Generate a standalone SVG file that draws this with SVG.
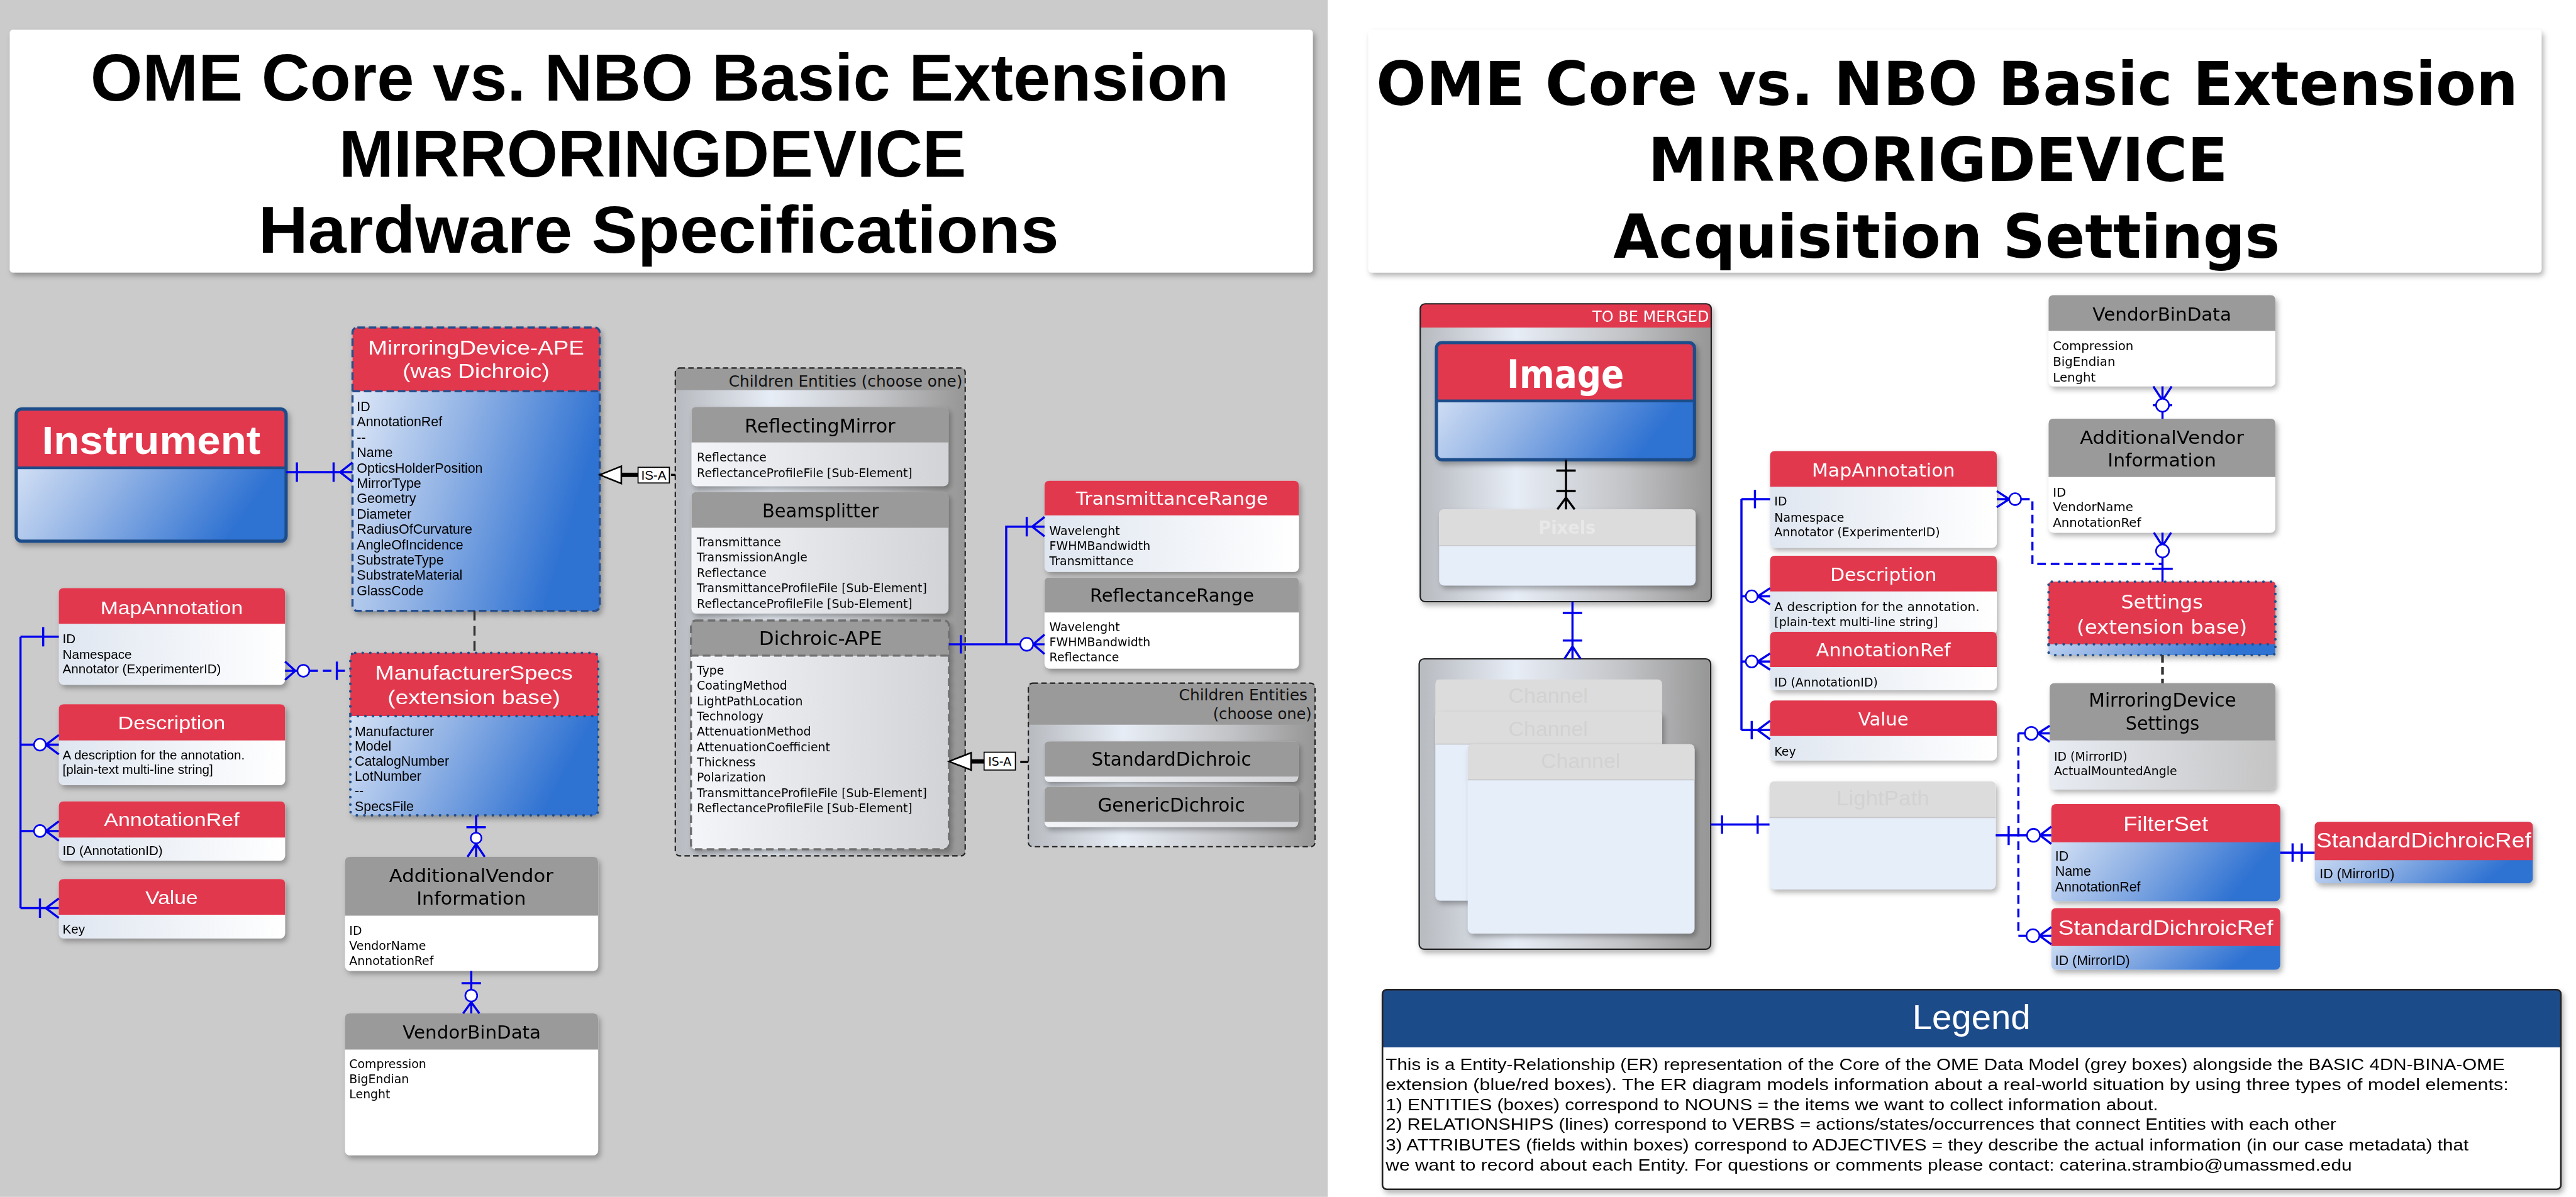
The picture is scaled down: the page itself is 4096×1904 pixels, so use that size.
<svg xmlns="http://www.w3.org/2000/svg" width="4096" height="1904" viewBox="0 0 4096 1904">
<defs>
<style>
.hr{fill:#e2384e}
.hg{fill:#9a9a9a}
.hl{fill:#dcdcdc}
.L{font-family:"Liberation Sans",Arial,sans-serif}
.D{font-family:"DejaVu Sans",Verdana,sans-serif}
.B{font-weight:bold}
.w{fill:#fff}
.k{fill:#000}
.f{fill:#d2d2d2}
.m{text-anchor:middle}
.e{text-anchor:end}
.c{fill:none;stroke:#0000ee;stroke-width:4}
.cd{fill:none;stroke:#0000ee;stroke-width:4;stroke-dasharray:16 9}
.ci{fill:#fff;stroke:#0000ee;stroke-width:3}
.bk{fill:none;stroke:#000;stroke-width:4}
</style>
<linearGradient id="gB" x1="0" y1="0" x2="1" y2="0.35"><stop offset="0" stop-color="#eaf0fa"/><stop offset="0.5" stop-color="#92b3e5"/><stop offset="1" stop-color="#2f72d2"/></linearGradient>
<linearGradient id="gW" x1="0" y1="0" x2="1" y2="0"><stop offset="0" stop-color="#dfe6f0"/><stop offset="1" stop-color="#ffffff"/></linearGradient>
<linearGradient id="gM" x1="0" y1="0" x2="1" y2="0"><stop offset="0" stop-color="#b7babf"/><stop offset="0.33" stop-color="#e7edf6"/><stop offset="0.7" stop-color="#c3c4c7"/><stop offset="1" stop-color="#969696"/></linearGradient>
<linearGradient id="gL" x1="0" y1="0" x2="1" y2="0"><stop offset="0" stop-color="#f3f5f9"/><stop offset="1" stop-color="#d2d3d6"/></linearGradient>
<linearGradient id="gS" x1="0" y1="0" x2="1" y2="0"><stop offset="0" stop-color="#e8ecf3"/><stop offset="1" stop-color="#c4c4c4"/></linearGradient>
<filter id="sh" x="-5%" y="-5%" width="115%" height="125%"><feDropShadow dx="4" dy="6" stdDeviation="5" flood-color="#000" flood-opacity="0.3"/></filter>
</defs>
<g transform="scale(0.85834)">
<rect x="0" y="0" width="2460" height="2218" fill="#cbcbcb"/>
<rect x="2460" y="0" width="2312" height="2218" fill="#ffffff"/>

<g id="title-left" filter="url(#sh)">
<rect x="18" y="55" width="2414" height="450" rx="6" fill="#fff"/>
<text class="L B k m" x="1222" y="186" font-size="124" textLength="2109" lengthAdjust="spacingAndGlyphs">OME Core vs. NBO Basic Extension</text>
<text class="L B k m" x="1209" y="327" font-size="124" textLength="1162" lengthAdjust="spacingAndGlyphs">MIRRORINGDEVICE</text>
<text class="L B k m" x="1220" y="468" font-size="124" textLength="1483" lengthAdjust="spacingAndGlyphs">Hardware Specifications</text>
</g>
<g id="title-right" filter="url(#sh)">
<rect x="2535" y="55" width="2173" height="450" rx="6" fill="#fff"/>
<text class="D B k m" x="3607" y="194" font-size="112" textLength="2115" lengthAdjust="spacingAndGlyphs">OME Core vs. NBO Basic Extension</text>
<text class="D B k m" x="3590" y="336" font-size="112" textLength="1074" lengthAdjust="spacingAndGlyphs">MIRRORIGDEVICE</text>
<text class="D B k m" x="3606" y="478" font-size="112" textLength="1235" lengthAdjust="spacingAndGlyphs">Acquisition Settings</text>
</g>

<!-- LEFT PANEL NODES -->
<g id="instrument" filter="url(#sh)">
<rect x="30" y="758" width="500" height="245" rx="10" fill="url(#gB)"/>
<path class="hr" d="M30,867V768Q30,758 40,758H520Q530,758 530,768V867Z"/>
<path d="M30,867H530" stroke="#1f4e8a" stroke-width="5"/>
<rect x="30" y="758" width="500" height="245" rx="10" fill="none" stroke="#1f4e8a" stroke-width="6"/>
<text class="L B w m" x="280" y="841" font-size="74" textLength="405" lengthAdjust="spacingAndGlyphs">Instrument</text>
</g>

<g id="mirroringdevice-ape" filter="url(#sh)">
<rect x="653" y="607" width="458" height="525" rx="9" fill="url(#gB)"/>
<path class="hr" d="M653,725V616Q653,607 662,607H1102Q1111,607 1111,616V725Z"/>
<rect x="653" y="607" width="458" height="525" rx="9" fill="none" stroke="#27508c" stroke-width="4" stroke-dasharray="14 7"/>
<path d="M653,725H1111" stroke="#27508c" stroke-width="4" stroke-dasharray="14 7"/>
<text class="L w m" x="882" y="657" font-size="37" textLength="400" lengthAdjust="spacingAndGlyphs">MirroringDevice-APE</text>
<text class="L w m" x="882" y="700" font-size="37" textLength="272" lengthAdjust="spacingAndGlyphs">(was Dichroic)</text>
<text class="L k" font-size="25"><tspan x="661" y="762">ID</tspan><tspan x="661" y="790">AnnotationRef</tspan><tspan x="661" y="819">--</tspan><tspan x="661" y="847">Name</tspan><tspan x="661" y="876">OpticsHolderPosition</tspan><tspan x="661" y="904">MirrorType</tspan><tspan x="661" y="932">Geometry</tspan><tspan x="661" y="961">Diameter</tspan><tspan x="661" y="989">RadiusOfCurvature</tspan><tspan x="661" y="1018">AngleOfIncidence</tspan><tspan x="661" y="1046">SubstrateType</tspan><tspan x="661" y="1074">SubstrateMaterial</tspan><tspan x="661" y="1103">GlassCode</tspan></text>
</g>

<g id="manufacturerspecs" filter="url(#sh)">
<rect x="649" y="1210" width="459" height="301" rx="9" fill="url(#gB)"/>
<path class="hr" d="M649,1327V1219Q649,1210 658,1210H1099Q1108,1210 1108,1219V1327Z"/>
<rect x="649" y="1210" width="459" height="301" rx="9" fill="none" stroke="#23508a" stroke-width="5" stroke-dasharray="0 14" stroke-linecap="round"/>
<path d="M649,1327H1108" stroke="#23508a" stroke-width="5" stroke-dasharray="0 14" stroke-linecap="round"/>
<text class="L w m" x="878" y="1259" font-size="37" textLength="366" lengthAdjust="spacingAndGlyphs">ManufacturerSpecs</text>
<text class="L w m" x="878" y="1305" font-size="37" textLength="320" lengthAdjust="spacingAndGlyphs">(extension base)</text>
<text class="L k" font-size="25"><tspan x="657" y="1364">Manufacturer</tspan><tspan x="657" y="1391">Model</tspan><tspan x="657" y="1419">CatalogNumber</tspan><tspan x="657" y="1447">LotNumber</tspan><tspan x="657" y="1474">--</tspan><tspan x="657" y="1503">SpecsFile</tspan></text>
</g>

<g id="mapannotation-left" filter="url(#sh)">
<rect x="109" y="1090" width="419" height="179" rx="9" fill="url(#gW)"/>
<path class="hr" d="M109,1156V1099Q109,1090 118,1090H519Q528,1090 528,1099V1156Z"/>
<text class="L w m" x="318" y="1138" font-size="35" textLength="264" lengthAdjust="spacingAndGlyphs">MapAnnotation</text>
<text class="L k" font-size="24"><tspan x="116" y="1192">ID</tspan><tspan x="116" y="1221">Namespace</tspan><tspan x="116" y="1248">Annotator (ExperimenterID)</tspan></text>
</g>
<g id="description-left" filter="url(#sh)">
<rect x="109" y="1305" width="419" height="150" rx="9" fill="url(#gW)"/>
<path class="hr" d="M109,1372V1314Q109,1305 118,1305H519Q528,1305 528,1314V1372Z"/>
<text class="L w m" x="318" y="1352" font-size="35" textLength="199" lengthAdjust="spacingAndGlyphs">Description</text>
<text class="L k" font-size="24"><tspan x="116" y="1407">A description for the annotation.</tspan><tspan x="116" y="1434">[plain-text multi-line string]</tspan></text>
</g>
<g id="annotationref-left" filter="url(#sh)">
<rect x="109" y="1485" width="419" height="110" rx="9" fill="url(#gW)"/>
<path class="hr" d="M109,1552V1494Q109,1485 118,1485H519Q528,1485 528,1494V1552Z"/>
<text class="L w m" x="318" y="1531" font-size="35" textLength="251" lengthAdjust="spacingAndGlyphs">AnnotationRef</text>
<text class="L k" x="116" y="1585" font-size="24">ID (AnnotationID)</text>
</g>
<g id="value-left" filter="url(#sh)">
<rect x="109" y="1629" width="419" height="110" rx="9" fill="url(#gW)"/>
<path class="hr" d="M109,1695V1638Q109,1629 118,1629H519Q528,1629 528,1638V1695Z"/>
<text class="L w m" x="318" y="1675" font-size="35" textLength="97" lengthAdjust="spacingAndGlyphs">Value</text>
<text class="L k" x="116" y="1730" font-size="24">Key</text>
</g>

<g id="additionalvendor-left" filter="url(#sh)">
<rect x="639" y="1588" width="469" height="211" rx="9" fill="#fff"/>
<path class="hg" d="M639,1697V1597Q639,1588 648,1588H1099Q1108,1588 1108,1597V1697Z"/>
<text class="D k m" x="873" y="1635" font-size="34" textLength="304" lengthAdjust="spacingAndGlyphs">AdditionalVendor</text>
<text class="D k m" x="873" y="1677" font-size="34" textLength="203" lengthAdjust="spacingAndGlyphs">Information</text>
<text class="D k" font-size="22"><tspan x="647" y="1732">ID</tspan><tspan x="647" y="1760">VendorName</tspan><tspan x="647" y="1788">AnnotationRef</tspan></text>
</g>
<g id="vendorbindata-left" filter="url(#sh)">
<rect x="639" y="1878" width="469" height="263" rx="9" fill="#fff"/>
<path class="hg" d="M639,1945V1887Q639,1878 648,1878H1099Q1108,1878 1108,1887V1945Z"/>
<text class="D k m" x="874" y="1925" font-size="34" textLength="256" lengthAdjust="spacingAndGlyphs">VendorBinData</text>
<text class="D k" font-size="22"><tspan x="647" y="1979">Compression</tspan><tspan x="647" y="2007">BigEndian</tspan><tspan x="647" y="2035">Lenght</tspan></text>
</g>

<g id="children-entities-1">
<rect x="1251" y="682" width="537" height="904" rx="8" fill="url(#gM)"/>
<path class="hg" d="M1251,723V690Q1251,682 1259,682H1780Q1788,682 1788,690V723Z"/>
<rect x="1251" y="682" width="537" height="904" rx="8" fill="none" stroke="#222" stroke-width="2.5" stroke-dasharray="10 6"/>
<text class="D e" x="1783" y="716" font-size="28" fill="#111" textLength="433" lengthAdjust="spacingAndGlyphs">Children Entities (choose one)</text>
</g>
<g id="reflectingmirror" filter="url(#sh)">
<rect x="1281" y="754" width="476" height="147" rx="9" fill="url(#gL)"/>
<path class="hg" d="M1281,820V763Q1281,754 1290,754H1748Q1757,754 1757,763V820Z"/>
<text class="D k m" x="1519" y="801" font-size="36" textLength="279" lengthAdjust="spacingAndGlyphs">ReflectingMirror</text>
<text class="D k" font-size="22"><tspan x="1291" y="855">Reflectance</tspan><tspan x="1291" y="884">ReflectanceProfileFile [Sub-Element]</tspan></text>
</g>
<g id="beamsplitter" filter="url(#sh)">
<rect x="1281" y="912" width="476" height="225" rx="9" fill="url(#gL)"/>
<path class="hg" d="M1281,978V921Q1281,912 1290,912H1748Q1757,912 1757,921V978Z"/>
<text class="D k m" x="1520" y="959" font-size="36" textLength="216" lengthAdjust="spacingAndGlyphs">Beamsplitter</text>
<text class="D k" font-size="22"><tspan x="1291" y="1012">Transmittance</tspan><tspan x="1291" y="1040">TransmissionAngle</tspan><tspan x="1291" y="1070">Reflectance</tspan><tspan x="1291" y="1098">TransmittanceProfileFile [Sub-Element]</tspan><tspan x="1291" y="1127">ReflectanceProfileFile [Sub-Element]</tspan></text>
</g>
<g id="dichroic-ape" filter="url(#sh)">
<rect x="1280" y="1150" width="478" height="424" rx="9" fill="url(#gL)"/>
<path class="hg" d="M1280,1215V1159Q1280,1150 1289,1150H1749Q1758,1150 1758,1159V1215Z"/>
<rect x="1280" y="1150" width="478" height="424" rx="9" fill="none" stroke="#707070" stroke-width="4" stroke-dasharray="14 8"/>
<path d="M1280,1215H1758" stroke="#707070" stroke-width="4" stroke-dasharray="14 8"/>
<text class="D k m" x="1520" y="1195" font-size="36" textLength="228" lengthAdjust="spacingAndGlyphs">Dichroic-APE</text>
<text class="D k" font-size="22"><tspan x="1291" y="1250">Type</tspan><tspan x="1291" y="1278">CoatingMethod</tspan><tspan x="1291" y="1307">LightPathLocation</tspan><tspan x="1291" y="1335">Technology</tspan><tspan x="1291" y="1363">AttenuationMethod</tspan><tspan x="1291" y="1392">AttenuationCoefficient</tspan><tspan x="1291" y="1420">Thickness</tspan><tspan x="1291" y="1448">Polarization</tspan><tspan x="1291" y="1477">TransmittanceProfileFile [Sub-Element]</tspan><tspan x="1291" y="1505">ReflectanceProfileFile [Sub-Element]</tspan></text>
</g>

<g id="transmittancerange" filter="url(#sh)">
<rect x="1935" y="891" width="471" height="169" rx="9" fill="url(#gW)"/>
<path class="hr" d="M1935,955V900Q1935,891 1944,891H2397Q2406,891 2406,900V955Z"/>
<text class="D w m" x="2171" y="936" font-size="34" textLength="356" lengthAdjust="spacingAndGlyphs">TransmittanceRange</text>
<text class="D k" font-size="22"><tspan x="1944" y="992">Wavelenght</tspan><tspan x="1944" y="1020">FWHMBandwidth</tspan><tspan x="1944" y="1047">Transmittance</tspan></text>
</g>
<g id="reflectancerange" filter="url(#sh)">
<rect x="1935" y="1070" width="471" height="169" rx="9" fill="#fff"/>
<path class="hg" d="M1935,1135V1079Q1935,1070 1944,1070H2397Q2406,1070 2406,1079V1135Z"/>
<text class="D k m" x="2171" y="1115" font-size="34" textLength="304" lengthAdjust="spacingAndGlyphs">ReflectanceRange</text>
<text class="D k" font-size="22"><tspan x="1944" y="1170">Wavelenght</tspan><tspan x="1944" y="1198">FWHMBandwidth</tspan><tspan x="1944" y="1226">Reflectance</tspan></text>
</g>

<g id="children-entities-2">
<rect x="1905" y="1266" width="531" height="303" rx="8" fill="url(#gM)"/>
<path class="hg" d="M1905,1343V1274Q1905,1266 1913,1266H2428Q2436,1266 2436,1274V1343Z"/>
<rect x="1905" y="1266" width="531" height="303" rx="8" fill="none" stroke="#222" stroke-width="2.5" stroke-dasharray="10 6"/>
<text class="D e" x="2422" y="1298" font-size="28" fill="#111" textLength="238" lengthAdjust="spacingAndGlyphs">Children Entities</text>
<text class="D e" x="2430" y="1333" font-size="28" fill="#111" textLength="183" lengthAdjust="spacingAndGlyphs">(choose one)</text>
</g>
<g id="standarddichroic" filter="url(#sh)">
<rect x="1935" y="1374" width="470" height="75" rx="9" fill="url(#gL)"/>
<path class="hg" d="M1935,1439V1383Q1935,1374 1944,1374H2396Q2405,1374 2405,1383V1439Z"/>
<text class="D k m" x="2170" y="1419" font-size="36" textLength="296" lengthAdjust="spacingAndGlyphs">StandardDichroic</text>
</g>
<g id="genericdichroic" filter="url(#sh)">
<rect x="1935" y="1458" width="470" height="75" rx="9" fill="url(#gL)"/>
<path class="hg" d="M1935,1523V1467Q1935,1458 1944,1458H2396Q2405,1458 2405,1467V1523Z"/>
<text class="D k m" x="2170" y="1504" font-size="36" textLength="273" lengthAdjust="spacingAndGlyphs">GenericDichroic</text>
</g>

<!-- RIGHT PANEL NODES -->
<g id="to-be-merged" filter="url(#sh)">
<rect x="2631" y="563" width="539" height="552" rx="9" fill="url(#gM)"/>
<path class="hr" d="M2631,607V572Q2631,563 2640,563H3161Q3170,563 3170,572V607Z"/>
<rect x="2631" y="563" width="539" height="552" rx="9" fill="none" stroke="#222" stroke-width="2.5"/>
<text class="D w e" x="3166" y="597" font-size="28" textLength="216" lengthAdjust="spacingAndGlyphs">TO BE MERGED</text>
</g>
<g id="image" filter="url(#sh)">
<rect x="2661" y="635" width="478" height="217" rx="10" fill="url(#gB)"/>
<path class="hr" d="M2661,743V645Q2661,635 2671,635H3129Q3139,635 3139,645V743Z"/>
<path d="M2661,743H3139" stroke="#1f4e8a" stroke-width="5"/>
<rect x="2661" y="635" width="478" height="217" rx="10" fill="none" stroke="#1f4e8a" stroke-width="6"/>
<text class="D B w m" x="2900" y="719" font-size="72" textLength="217" lengthAdjust="spacingAndGlyphs">Image</text>
</g>
<g id="pixels" filter="url(#sh)">
<rect x="2666" y="944" width="475" height="141" rx="9" fill="#e6eefa"/>
<path class="hl" d="M2666,1011V953Q2666,944 2675,944H3132Q3141,944 3141,953V1011Z"/>
<path d="M2666,1011H3141" stroke="#c8c8c8" stroke-width="2"/>
<text class="D B m" x="2903" y="989" font-size="34" fill="#e8e8e8" textLength="106" lengthAdjust="spacingAndGlyphs">Pixels</text>
</g>

<g id="channel-group" filter="url(#sh)">
<rect x="2629" y="1221" width="540" height="538" rx="9" fill="url(#gM)"/>
<rect x="2629" y="1221" width="540" height="538" rx="9" fill="none" stroke="#222" stroke-width="2.5"/>
</g>
<g id="channel-1">
<path class="hl" d="M2659,1330V1268Q2659,1259 2668,1259H3070Q3079,1259 3079,1268V1330Z"/>
<text class="L f m" x="2868" y="1303" font-size="38" textLength="147" lengthAdjust="spacingAndGlyphs">Channel</text>
</g>
<g id="channel-2" filter="url(#sh)">
<rect x="2659" y="1319" width="420" height="350" rx="9" fill="#e6eefa"/>
<path class="hl" d="M2659,1379V1328Q2659,1319 2668,1319H3070Q3079,1319 3079,1328V1379Z"/>
<path d="M2659,1379H3079" stroke="#c8c8c8" stroke-width="2"/>
<text class="L f m" x="2868" y="1364" font-size="38" textLength="147" lengthAdjust="spacingAndGlyphs">Channel</text>
</g>
<g id="channel-3" filter="url(#sh)">
<rect x="2719" y="1379" width="420" height="351" rx="9" fill="#e6eefa"/>
<path class="hl" d="M2719,1445V1388Q2719,1379 2728,1379H3130Q3139,1379 3139,1388V1445Z"/>
<path d="M2719,1445H3139" stroke="#c8c8c8" stroke-width="2"/>
<text class="L f m" x="2928" y="1424" font-size="38" textLength="147" lengthAdjust="spacingAndGlyphs">Channel</text>
</g>
<g id="lightpath" filter="url(#sh)">
<rect x="3278" y="1448" width="419" height="200" rx="9" fill="#e6eefa"/>
<path class="hl" d="M3278,1515V1457Q3278,1448 3287,1448H3688Q3697,1448 3697,1457V1515Z"/>
<path d="M3278,1515H3697" stroke="#c8c8c8" stroke-width="2"/>
<text class="L f m" x="3488" y="1493" font-size="38" textLength="172" lengthAdjust="spacingAndGlyphs">LightPath</text>
</g>

<g id="mapannotation-right" filter="url(#sh)">
<rect x="3279" y="836" width="420" height="179" rx="9" fill="url(#gW)"/>
<path class="hr" d="M3279,902V845Q3279,836 3288,836H3690Q3699,836 3699,845V902Z"/>
<text class="D w m" x="3489" y="883" font-size="34" textLength="265" lengthAdjust="spacingAndGlyphs">MapAnnotation</text>
<text class="D k" font-size="22"><tspan x="3287" y="937">ID</tspan><tspan x="3287" y="967">Namespace</tspan><tspan x="3287" y="994">Annotator (ExperimenterID)</tspan></text>
</g>
<g id="description-right" filter="url(#sh)">
<rect x="3279" y="1030" width="420" height="145" rx="9" fill="url(#gW)"/>
<path class="hr" d="M3279,1096V1039Q3279,1030 3288,1030H3690Q3699,1030 3699,1039V1096Z"/>
<text class="D w m" x="3489" y="1077" font-size="34" textLength="197" lengthAdjust="spacingAndGlyphs">Description</text>
<text class="D k" font-size="22"><tspan x="3287" y="1132" textLength="380" lengthAdjust="spacingAndGlyphs">A description for the annotation.</tspan><tspan x="3287" y="1160">[plain-text multi-line string]</tspan></text>
</g>
<g id="annotationref-right" filter="url(#sh)">
<rect x="3279" y="1171" width="420" height="108" rx="9" fill="url(#gW)"/>
<path class="hr" d="M3279,1236V1180Q3279,1171 3288,1171H3690Q3699,1171 3699,1180V1236Z"/>
<text class="D w m" x="3489" y="1216" font-size="34" textLength="249" lengthAdjust="spacingAndGlyphs">AnnotationRef</text>
<text class="D k" x="3287" y="1272" font-size="22">ID (AnnotationID)</text>
</g>
<g id="value-right" filter="url(#sh)">
<rect x="3279" y="1298" width="420" height="111" rx="9" fill="url(#gW)"/>
<path class="hr" d="M3279,1364V1307Q3279,1298 3288,1298H3690Q3699,1298 3699,1307V1364Z"/>
<text class="D w m" x="3489" y="1344" font-size="34" textLength="93" lengthAdjust="spacingAndGlyphs">Value</text>
<text class="D k" x="3287" y="1400" font-size="22">Key</text>
</g>

<g id="vendorbindata-right" filter="url(#sh)">
<rect x="3795" y="547" width="420" height="169" rx="9" fill="#fff"/>
<path class="hg" d="M3795,613V556Q3795,547 3804,547H4206Q4215,547 4215,556V613Z"/>
<text class="D k m" x="4005" y="594" font-size="34" textLength="257" lengthAdjust="spacingAndGlyphs">VendorBinData</text>
<text class="D k" font-size="23"><tspan x="3803" y="649">Compression</tspan><tspan x="3803" y="678">BigEndian</tspan><tspan x="3803" y="707">Lenght</tspan></text>
</g>
<g id="additionalvendor-right" filter="url(#sh)">
<rect x="3795" y="776" width="420" height="211" rx="9" fill="#fff"/>
<path class="hg" d="M3795,884V785Q3795,776 3804,776H4206Q4215,776 4215,785V884Z"/>
<text class="D k m" x="4005" y="823" font-size="34" textLength="304" lengthAdjust="spacingAndGlyphs">AdditionalVendor</text>
<text class="D k m" x="4005" y="865" font-size="34" textLength="201" lengthAdjust="spacingAndGlyphs">Information</text>
<text class="D k" font-size="23"><tspan x="3803" y="920">ID</tspan><tspan x="3803" y="947">VendorName</tspan><tspan x="3803" y="976">AnnotationRef</tspan></text>
</g>
<g id="settings" filter="url(#sh)">
<rect x="3795" y="1078" width="420" height="136" rx="6" fill="url(#gB)"/>
<path class="hr" d="M3795,1194V1084Q3795,1078 3801,1078H4209Q4215,1078 4215,1084V1194Z"/>
<rect x="3795" y="1078" width="420" height="136" rx="6" fill="none" stroke="#23508a" stroke-width="5" stroke-dasharray="0 14" stroke-linecap="round"/>
<path d="M3795,1194H4215" stroke="#23508a" stroke-width="5" stroke-dasharray="0 14" stroke-linecap="round"/>
<text class="D w m" x="4005" y="1128" font-size="36" textLength="152" lengthAdjust="spacingAndGlyphs">Settings</text>
<text class="D w m" x="4005" y="1174" font-size="36" textLength="316" lengthAdjust="spacingAndGlyphs">(extension base)</text>
</g>
<g id="mirroringdevice-settings" filter="url(#sh)">
<rect x="3797" y="1266" width="418" height="197" rx="9" fill="url(#gS)"/>
<path class="hg" d="M3797,1372V1275Q3797,1266 3806,1266H4206Q4215,1266 4215,1275V1372Z"/>
<text class="D k m" x="4006" y="1310" font-size="35" textLength="273" lengthAdjust="spacingAndGlyphs">MirroringDevice</text>
<text class="D k m" x="4006" y="1353" font-size="35" textLength="137" lengthAdjust="spacingAndGlyphs">Settings</text>
<text class="D k" font-size="22"><tspan x="3805" y="1410">ID (MirrorID)</tspan><tspan x="3805" y="1437">ActualMountedAngle</tspan></text>
</g>
<g id="filterset" filter="url(#sh)">
<rect x="3800" y="1490" width="424" height="180" rx="9" fill="url(#gB)"/>
<path class="hr" d="M3800,1561V1499Q3800,1490 3809,1490H4215Q4224,1490 4224,1499V1561Z"/>
<text class="L w m" x="4012" y="1540" font-size="38" textLength="157" lengthAdjust="spacingAndGlyphs">FilterSet</text>
<text class="L k" font-size="25"><tspan x="3807" y="1595">ID</tspan><tspan x="3807" y="1623">Name</tspan><tspan x="3807" y="1652">AnnotationRef</tspan></text>
</g>
<g id="standarddichroicref-right" filter="url(#sh)">
<rect x="4288" y="1523" width="404" height="114" rx="9" fill="url(#gB)"/>
<path class="hr" d="M4288,1594V1532Q4288,1523 4297,1523H4683Q4692,1523 4692,1532V1594Z"/>
<text class="L w m" x="4490" y="1570" font-size="38" textLength="398" lengthAdjust="spacingAndGlyphs">StandardDichroicRef</text>
<text class="L k" x="4297" y="1628" font-size="25">ID (MirrorID)</text>
</g>
<g id="standarddichroicref-lower" filter="url(#sh)">
<rect x="3800" y="1683" width="424" height="114" rx="9" fill="url(#gB)"/>
<path class="hr" d="M3800,1753V1692Q3800,1683 3809,1683H4215Q4224,1683 4224,1692V1753Z"/>
<text class="L w m" x="4012" y="1732" font-size="38" textLength="398" lengthAdjust="spacingAndGlyphs">StandardDichroicRef</text>
<text class="L k" x="3807" y="1788" font-size="25">ID (MirrorID)</text>
</g>

<g id="legend" filter="url(#sh)">
<rect x="2561" y="1834" width="2183" height="370" rx="8" fill="#fff"/>
<path d="M2561,1941V1842Q2561,1834 2569,1834H4736Q4744,1834 4744,1842V1941Z" fill="#1f4b8a"/>
<rect x="2561" y="1834" width="2183" height="370" rx="8" fill="none" stroke="#222" stroke-width="3"/>
<text class="L w m" x="3652" y="1907" font-size="64" textLength="219" lengthAdjust="spacingAndGlyphs">Legend</text>
<text class="L k" font-size="30" lengthAdjust="spacingAndGlyphs">
<tspan x="2567" y="1983" textLength="2073" lengthAdjust="spacingAndGlyphs">This is a Entity-Relationship (ER) representation of the Core of the OME Data Model (grey boxes) alongside the BASIC 4DN-BINA-OME</tspan>
<tspan x="2567" y="2020" textLength="2080" lengthAdjust="spacingAndGlyphs">extension (blue/red boxes). The ER diagram models information about a real-world situation by using three types of model elements:</tspan>
<tspan x="2567" y="2057" textLength="1431" lengthAdjust="spacingAndGlyphs">1) ENTITIES (boxes) correspond to NOUNS = the items we want to collect information about.</tspan>
<tspan x="2567" y="2094" textLength="1761" lengthAdjust="spacingAndGlyphs">2) RELATIONSHIPS (lines) correspond to VERBS = actions/states/occurrences that connect Entities with each other</tspan>
<tspan x="2567" y="2132" textLength="2006" lengthAdjust="spacingAndGlyphs">3) ATTRIBUTES (fields within boxes) correspond to ADJECTIVES = they describe the actual information (in our case metadata) that</tspan>
<tspan x="2567" y="2169" textLength="1790" lengthAdjust="spacingAndGlyphs">we want to record about each Entity. For questions or comments please contact: caterina.strambio@umassmed.edu</tspan>
</text>
</g>

<!-- CONNECTORS -->
<g id="connectors">
<path class="c" d="M530,875H653M550,857V893M618,857V893M630,875L653,857M630,875L653,893"/>
<path d="M1151,880H1182" stroke="#000" stroke-width="8"/>
<polygon points="1111,880 1151,864 1151,896" fill="#fff" stroke="#000" stroke-width="3"/>
<rect x="1182" y="866" width="58" height="29" fill="#fff" stroke="#000" stroke-width="2"/>
<text class="L k m" x="1211" y="889" font-size="24">IS-A</text>
<path d="M1243,880H1251" stroke="#000" stroke-width="4"/>
<path d="M879,1132V1210" stroke="#333" stroke-width="4" stroke-dasharray="18 10"/>
<path class="c" d="M528,1226L547,1243L528,1260M528,1243H551"/>
<circle class="ci" cx="562" cy="1243" r="11"/>
<path class="cd" d="M573,1243H649"/>
<path class="c" d="M624,1226V1260"/>
<path class="c" d="M38,1180V1683M38,1180H109M80,1162V1198M38,1380H63M38,1540H63M38,1683H109M74,1665V1701M85,1683L109,1665M85,1683L109,1701M85,1380L109,1362M85,1380L109,1398M85,1380H109M85,1540L109,1522M85,1540L109,1558M85,1540H109"/>
<circle class="ci" cx="74" cy="1380" r="11"/>
<circle class="ci" cx="74" cy="1540" r="11"/>
<path class="c" d="M882,1511V1543M864,1533H900M882,1563V1588M882,1564L866,1588M882,1564L898,1588"/>
<circle class="ci" cx="882" cy="1553" r="10"/>
<path class="c" d="M873,1799V1834M855,1822H891M873,1856V1878M873,1857L858,1878M873,1857L888,1878"/>
<circle class="ci" cx="873" cy="1845" r="11"/>
<path class="c" d="M1758,1194H1891M1780,1177V1211M1864,1194V976H1935M1902,958V994M1912,976L1935,958M1912,976L1935,994M1914,1194L1935,1176M1914,1194L1935,1212M1914,1194H1935"/>
<circle class="ci" cx="1902" cy="1194" r="12"/>
<path d="M1799,1411H1823" stroke="#000" stroke-width="8"/>
<polygon points="1758,1411 1799,1395 1799,1427" fill="#fff" stroke="#000" stroke-width="3"/>
<rect x="1823" y="1394" width="58" height="33" fill="#fff" stroke="#000" stroke-width="2"/>
<text class="D k m" x="1852" y="1419" font-size="22">IS-A</text>
<path d="M1890,1412H1905" stroke="#000" stroke-width="4"/>

<path class="bk" d="M2901,852V944M2883,872H2919M2883,910H2919M2901,922L2885,944M2901,922L2917,944"/>
<path class="c" d="M2913,1115V1221M2895,1136H2931M2895,1187H2931M2913,1198L2898,1221M2913,1198L2928,1221"/>
<path class="c" d="M3169,1528H3278M3190,1511V1545M3256,1511V1545"/>
<path class="c" d="M3226,925V1353M3226,925H3279M3251,908V942M3226,1105H3234M3226,1226H3234M3226,1353H3279M3245,1336V1370M3256,1353L3279,1336M3256,1353L3279,1370M3256,1105L3279,1090M3256,1105L3279,1120M3256,1105H3279M3256,1226L3279,1211M3256,1226L3279,1241M3256,1226H3279"/>
<circle class="ci" cx="3245" cy="1105" r="11"/>
<circle class="ci" cx="3245" cy="1226" r="11"/>
<path class="c" d="M3699,910L3722,925L3699,940M3699,925H3722"/>
<circle class="ci" cx="3733" cy="925" r="11"/>
<path class="cd" d="M3744,925H3765V1045H4006"/>
<path class="c" d="M4006,716V739M3989,716L4006,742L4023,716M3988,751H4024M4006,763V776"/>
<circle class="ci" cx="4006" cy="751" r="12"/>
<path class="c" d="M3990,987L4006,1012L4022,987M4006,987V1009M4006,1033V1078M3987,1054H4025"/>
<circle class="ci" cx="4006" cy="1021" r="12"/>
<path d="M4006,1214V1266" stroke="#333" stroke-width="5" stroke-dasharray="14 8"/>
<path class="c" stroke-width="6" d="M3697,1548H3739"/>
<path class="cd" d="M3739,1359V1734"/>
<path class="c" d="M3721,1531V1566M3739,1548H3755M3779,1548L3800,1532M3779,1548L3800,1564M3779,1548H3800M3739,1359H3751M3775,1359L3797,1345M3775,1359L3797,1375M3775,1359H3797M3739,1734H3754M3778,1734L3800,1718M3778,1734L3800,1750M3778,1734H3800"/>
<circle class="ci" cx="3767" cy="1548" r="12"/>
<circle class="ci" cx="3763" cy="1359" r="12"/>
<circle class="ci" cx="3766" cy="1734" r="12"/>
<path class="c" d="M4224,1580H4288M4247,1563V1597M4264,1563V1597"/>
</g>
</g>
</svg>
